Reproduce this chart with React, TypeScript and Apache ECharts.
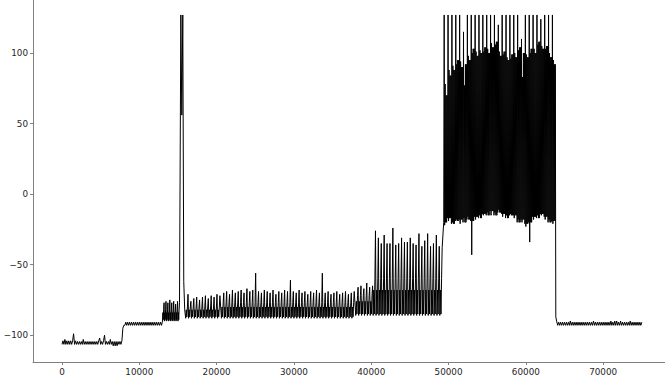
import React, { useEffect, useRef } from "react";
import * as echarts from "echarts";

// sample spacing of the flat parts of the trace (x units)
const STEP = 125;

const xTicks = [0, 10000, 20000, 30000, 40000, 50000, 60000, 70000];
const yTicks = [-100, -50, 0, 50, 100];

// resting level, then step up at ~7750
const restStart = 0;
const restTrace = [
  -106.5, -104, -106.5, -103, -106.5, -104, -106.5, -104, -106.5, -104,
  -106.5, -104, -99, -106.5, -104, -106.5, -104.5, -106.5, -104.5, -106.5,
  -104.5, -106.5, -103, -106.5, -104.5, -106.5, -104.5, -106.5, -104.5, -106.5,
  -104.5, -106.5, -104.5, -106.5, -104.5, -106.5, -104.5, -106.5, -104, -102,
  -106.5, -104.5, -106.5, -104, -100, -106.5, -104.5, -106.5, -104.5, -106.5,
  -103, -106.5, -104.5, -107.5, -104.5, -107.5, -104.5, -107.5, -104.5, -106.5,
  -104.5, -106.5, -104, -95, -93,
];

// holding level
const holdStart = 8125;
const holdTrace = [
  -93, -90.8, -93, -90.8, -93, -90.8, -93, -90.8, -93, -90.8,
  -93, -90.8, -93, -90.8, -93, -90.8, -93, -90.8, -93, -90.8,
  -93, -90.8, -93, -90.8, -93, -90.8, -93, -90.8, -93, -90.8,
  -93, -90.8, -93, -90.8, -93, -90.8, -93, -90.8, -93,
];

// spike trains: start, sample step, [trough, body, trough, body], spike peaks
const burst1Start = 13000;
const burst1Step = 50;
const burst1Levels = [-90, -84, -89, -82];
const burst1Tops = [-77, -76, -77, -75, -77, -76, -78, -76, -77];

// the tall isolated spike
const bigSpikeStart = 15375;
const bigSpikeTrace = [127, 56, 127, -62, -82];

const trainAStart = 16000;
const trainAStep = 75;
const trainALevels = [-88, -82, -87, -80];
const trainATops = [-71, -76, -74, -73, -75, -73, -72, -74, -72, -73, -71, -72];

const trainBStart = 20625;
const trainBStep = 75;
const trainBLevels = [-88, -80, -87, -77];
const trainBTops = [
  -70, -69, -71, -68, -70, -69, -68, -70, -67, -69, -68, -56,
  -69, -70, -68, -69, -70, -68, -71, -69, -70, -68, -69, -61,
];

const trainCStart = 29625;
const trainCStep = 75;
const trainCLevels = [-88, -80, -87, -77];
const trainCTops = [
  -69, -70, -68, -70, -69, -71, -69, -70, -68, -70, -56,
  -70, -69, -71, -70, -69, -71, -70, -69, -71, -70, -69,
];

const trainDStart = 38000;
const trainDStep = 75;
const trainDLevels = [-86, -76, -85, -72];
const trainDTops = [-66, -65, -67, -63, -66, -65];

const trainEStart = 40250;
const trainEStep = 75;
const trainELevels = [-86, -68, -85, -60];
const trainETops = [
  -26, -31, -35, -29, -35, -35, -24, -36, -35, -31, -34, -34,
  -31, -35, -36, -28, -37, -33, -28, -37, -35, -29, -37, -38,
];

// up-state: per cycle envelopes (lower, peak, upper) and mid-cycle envelopes
const upStart = 49375;
const upStep = 62.5;
const upLo = [
  -22, -19, -20, -18, -21, -17, -16, -43, -18, -15,
  -15, -13, -15, -13, -11, -16, -15, -14, -17, -18,
  -20, -23, -34, -18, -15, -15, -18, -18, -21,
];
const upLoMid = [
  -20, -17, -21, -19, -18, -20, -18, -19, -16, -17,
  -14, -15, -12, -15, -13, -14, -17, -15, -15, -20,
  -18, -21, -20, -16, -17, -14, -16, -20, -19,
];
const upPeak = [
  127, 127, 127, 127, 127, 115, 127, 127, 127, 127,
  127, 127, 127, 127, 120, 127, 127, 127, 127, 127,
  110, 127, 127, 127, 127, 124, 127, 127, 127,
];
const upHi = [
  78, 88, 91, 92, 94, 77, 98, 100, 101, 102,
  101, 103, 107, 106, 101, 99, 97, 96, 100, 102,
  83, 99, 100, 103, 106, 105, 103, 100, 95,
];
const upHiMid = [
  70, 84, 88, 95, 90, 92, 95, 103, 98, 100,
  104, 100, 104, 108, 98, 101, 95, 99, 97, 104,
  100, 97, 103, 100, 108, 103, 105, 97, 92,
];

// return to holding level
const tailStart = 63875;
const tailTrace = [
  -87, -90.5,
  -93, -90.8, -93, -90.8, -93, -90.8, -93, -90.8, -93, -90.8,
  -93, -90.8, -93, -90, -93, -90.8, -93, -90.8, -93, -90.8,
  -93, -90.8, -93, -90.8, -93, -90.8, -93, -90.8, -93, -90.8,
  -93, -90.8, -93, -90.8, -93, -90.8, -93, -90, -93, -90.8,
  -93, -90.8, -93, -90.8, -93, -90.8, -93, -90.8, -93, -90.8,
  -93, -90.8, -93, -90.8, -93, -90, -93, -90.8, -93, -90,
  -93, -90, -93, -90.8, -93, -90, -93, -90.8, -93, -90.8,
  -93, -90.8, -93, -90.8, -93, -90, -93, -90.8, -93, -90.8,
  -93, -90.8, -93, -90.8, -93, -90.8, -93, -90.8,
];

function seg(start: number, values: number[], step = STEP): number[][] {
  return values.map((v, j) => [start + j * step, v]);
}

// each spike: trough, body, trough, body, peak
function train(start: number, step: number, levels: number[], tops: number[]): number[][] {
  const vals: number[] = [];
  const [lo1, body1, lo2, body2] = levels;
  tops.forEach((t) => vals.push(lo1, body1, lo2, body2, t));
  return seg(start, vals, step);
}

function buildData(): number[][] {
  const upTrace: number[] = [];
  for (let k = 0; k < upLo.length; k++) {
    upTrace.push(
      upLoMid[k], upPeak[k], upLo[k], upHi[k],
      upLoMid[k], upHiMid[k], upLoMid[k], upHiMid[k],
    );
  }
  return [
    ...seg(restStart, restTrace),
    ...seg(holdStart, holdTrace),
    ...train(burst1Start, burst1Step, burst1Levels, burst1Tops),
    ...seg(bigSpikeStart, bigSpikeTrace),
    ...train(trainAStart, trainAStep, trainALevels, trainATops),
    ...train(trainBStart, trainBStep, trainBLevels, trainBTops),
    ...train(trainCStart, trainCStep, trainCLevels, trainCTops),
    ...train(trainDStart, trainDStep, trainDLevels, trainDTops),
    ...train(trainEStart, trainEStep, trainELevels, trainETops),
    ...seg(upStart, upTrace, upStep),
    ...seg(tailStart, tailTrace),
  ];
}

const minusFmt = (v: number) => (v < 0 ? "\u2212" + Math.abs(v) : String(v));

export default function App() {
  const ref = useRef<HTMLDivElement>(null);
  useEffect(() => {
    if (!ref.current) return;
    const chart = echarts.init(ref.current, undefined, { renderer: "svg" });
    const axisColor = "#808080";
    const labelStyle = {
      fontSize: 8.8,
      fontFamily: "DejaVu Sans",
      color: "#262626",
    };
    chart.setOption({
      animation: false,
      grid: { left: 33, right: 0, top: 0, bottom: 19, containLabel: false },
      xAxis: {
        type: "value",
        min: -3750,
        max: 78000,
        splitLine: { show: false },
        axisLine: { show: true, onZero: false, lineStyle: { color: axisColor, width: 1 } },
        axisTick: { show: true, customValues: xTicks, length: 3, lineStyle: { color: axisColor } },
        axisLabel: { ...labelStyle, customValues: xTicks, margin: 5, formatter: minusFmt },
      },
      yAxis: {
        type: "value",
        min: -119,
        max: 137.6,
        splitLine: { show: false },
        axisLine: { show: true, onZero: false, lineStyle: { color: axisColor, width: 1 } },
        axisTick: { show: true, customValues: yTicks, length: 3, lineStyle: { color: axisColor } },
        axisLabel: { ...labelStyle, customValues: yTicks, margin: 5, formatter: minusFmt },
      },
      series: [
        {
          type: "line",
          data: buildData(),
          showSymbol: false,
          symbol: "none",
          silent: true,
          clip: true,
          lineStyle: { color: "#000000", width: 1 },
        },
      ],
    });
    return () => chart.dispose();
  }, []);
  return (
    <div
      ref={ref}
      style={{ position: "fixed", left: 0, top: 0, width: 665, height: 381, background: "#fff" }}
    />
  );
}
